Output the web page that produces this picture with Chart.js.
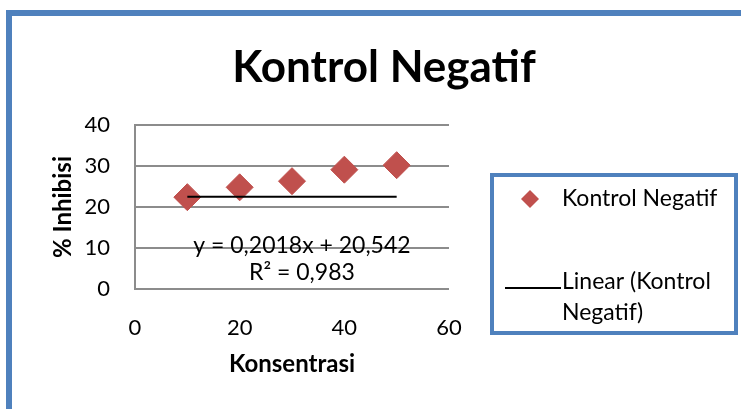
<!DOCTYPE html>
<html>
<head>
<meta charset="utf-8">
<script src="https://cdn.jsdelivr.net/npm/chart.js@4.4.1/dist/chart.umd.min.js"></script>
<style>
  html, body { margin: 0; padding: 0; background: #fff; overflow: hidden; }
  .frame { position: absolute; left: 6px; top: 10px; width: 800px; height: 500px; border: 6px solid #4f81bd; }
  .wrap { position: absolute; left: 0; top: 0; width: 741px; height: 409px; }
</style>
</head>
<body>
<div class="frame"></div>
<div class="wrap"><canvas id="chart" width="741" height="409"></canvas></div>
<script>
// data
const konsentrasi = [10, 20, 30, 40, 50];
const inhibisi = [22.4, 24.8, 26.3, 29.1, 30.2];
// trend line as it is drawn in the picture (flat)
const trendX = [10, 50];
const trendY = [22.5, 22.5];
const yTicks = [0, 10, 20, 30, 40];
const xTicks = [0, 20, 40, 60];
const chartTitle = 'Kontrol Negatif';
const equationLines = ['y = 0,2018x + 20,542', 'R² = 0,983'];
const equationAt = { x: 31.9, y: [10.7, 3.9] };

const FONT = 'Lato, "Open Sans", sans-serif';
const RED = '#c0504d';
const BLUE = '#4f81bd';

// título centrado na página toda
const titlePlugin = {
  id: 'bigTitle',
  afterDraw(chart) {
    const { ctx } = chart;
    ctx.save();
    ctx.font = 'bold 44px ' + FONT;
    ctx.fillStyle = '#000';
    ctx.textAlign = 'center';
    ctx.textBaseline = 'alphabetic';
    ctx.fillText(chartTitle, 384, 82);
    ctx.restore();
  }
};

// texto da equação da tendência
const equationPlugin = {
  id: 'equation',
  afterDatasetsDraw(chart) {
    const { ctx, scales } = chart;
    ctx.save();
    ctx.font = '23px ' + FONT;
    ctx.fillStyle = '#000';
    ctx.textAlign = 'center';
    ctx.textBaseline = 'middle';
    equationLines.forEach((t, i) => {
      ctx.fillText(t, scales.x.getPixelForValue(equationAt.x), scales.y.getPixelForValue(equationAt.y[i]));
    });
    ctx.restore();
  }
};

// legenda em caixa azul à direita
const boxLegend = {
  id: 'boxLegend',
  afterDraw(chart) {
    const { ctx } = chart;
    const ds = chart.data.datasets;
    ctx.save();
    ctx.lineWidth = 4;
    ctx.strokeStyle = BLUE;
    ctx.strokeRect(492, 175, 244, 158);

    ctx.font = '23px ' + FONT;
    ctx.textAlign = 'left';
    ctx.textBaseline = 'middle';

    // marker
    ctx.fillStyle = RED;
    ctx.beginPath();
    ctx.moveTo(530, 190); ctx.lineTo(539, 199); ctx.lineTo(530, 208); ctx.lineTo(521, 199); ctx.closePath();
    ctx.fill();
    ctx.fillStyle = '#000';
    ctx.fillText(ds[0].label, 562, 199);

    // linha
    ctx.strokeStyle = '#000';
    ctx.lineWidth = 2;
    ctx.beginPath();
    ctx.moveTo(505, 288); ctx.lineTo(561, 288);
    ctx.stroke();
    const words = ds[1].label.split(' ');
    const lines = [];
    let cur = '';
    words.forEach(w => {
      const test = cur ? cur + ' ' + w : w;
      if (ctx.measureText(test).width > 168 && cur) { lines.push(cur); cur = w; } else { cur = test; }
    });
    lines.push(cur);
    lines.forEach((l, i) => ctx.fillText(l, 562, 282 + i * 31));
    ctx.restore();
  }
};

new Chart(document.getElementById('chart'), {
  type: 'scatter',
  data: {
    datasets: [
      {
        label: 'Kontrol Negatif',
        data: konsentrasi.map((x, i) => ({ x: x, y: inhibisi[i] })),
        pointStyle: 'rectRot',
        pointRadius: 13.5,
        pointHoverRadius: 13.5,
        backgroundColor: RED,
        borderColor: RED,
        borderWidth: 1,
        order: 2
      },
      {
        type: 'line',
        label: 'Linear (Kontrol Negatif)',
        data: trendX.map((x, i) => ({ x: x, y: trendY[i] })),
        borderColor: '#000',
        borderWidth: 2,
        pointRadius: 0,
        fill: false,
        order: 1
      }
    ]
  },
  options: {
    responsive: false,
    animation: false,
    layout: { padding: { left: 49, top: 125, right: 292, bottom: 30 } },
    plugins: {
      legend: { display: false },
      tooltip: { enabled: false },
      title: { display: false }
    },
    scales: {
      x: {
        type: 'linear',
        min: 0, max: 60,
        afterBuildTicks: s => { s.ticks = xTicks.map(v => ({ value: v })); },
        afterFit: s => { s.height = 90; },
        grid: { display: false, drawTicks: false },
        border: { display: false },
        ticks: { color: '#000', padding: 26, font: { family: FONT, size: 22 } },
        title: { display: true, text: 'Konsentrasi', color: '#000', padding: 0, font: { family: FONT, size: 24, weight: 'bold' } }
      },
      y: {
        min: 0, max: 40,
        afterBuildTicks: s => { s.ticks = yTicks.map(v => ({ value: v })); },
        afterFit: s => { s.width = 86; },
        grid: { color: '#8c8c8c', lineWidth: 2, drawTicks: false },
        border: { display: true, color: '#8c8c8c', width: 2 },
        ticks: { color: '#000', padding: 25, font: { family: FONT, size: 22 } },
        title: { display: true, text: '% Inhibisi', color: '#000', padding: 0, font: { family: FONT, size: 24, weight: 'bold' } }
      }
    }
  },
  plugins: [equationPlugin, titlePlugin, boxLegend]
});
</script>
</body>
</html>
